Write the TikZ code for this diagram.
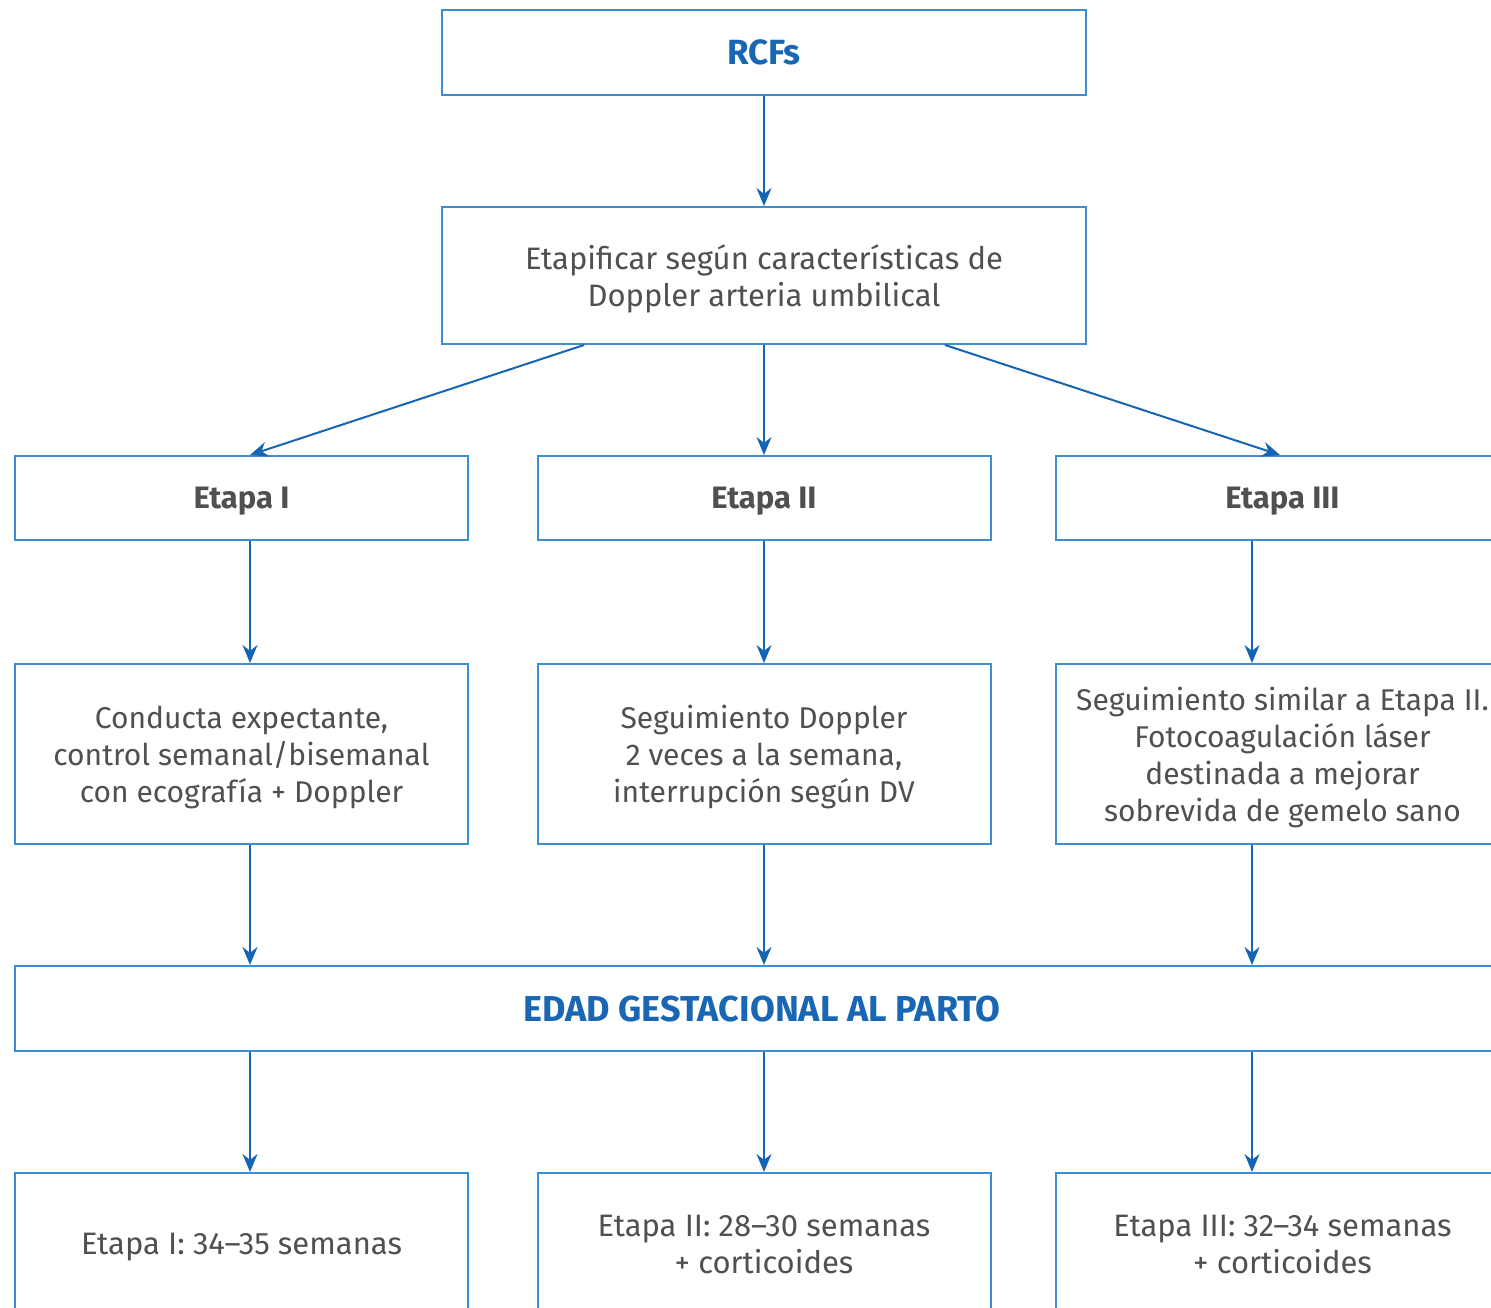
\documentclass[tikz,border=0pt]{standalone}
\usepackage{fontspec}
\setmainfont{Fira Sans}
\usetikzlibrary{arrows.meta,calc}
\definecolor{boxblue}{HTML}{3C8DD2}
\definecolor{arrblue}{HTML}{1565B4}
\definecolor{txtgray}{HTML}{505050}
\definecolor{ttlblue}{HTML}{1866B4}
\begin{document}
\begin{tikzpicture}[x=1pt,y=-1pt,
  box/.style={draw=boxblue,line width=2pt,fill=white,inner sep=0pt,align=center,
    text=txtgray,text depth=0pt,font=\fontsize{31}{37}\selectfont},
  sbox/.style={box,minimum width=453pt,minimum height=84pt},
  mbox/.style={box,minimum width=453pt,minimum height=180pt,font=\fontsize{30}{37}\selectfont},
  bbox/.style={box,minimum width=453pt,minimum height=142pt},
  ttl/.style={text=ttlblue,font=\fontsize{35}{37}\selectfont\bfseries},
  hd/.style={font=\fontsize{31}{37}\selectfont\bfseries},
  arr/.style={draw=arrblue,line width=2pt,-{Stealth[length=18pt,width=15pt]}}]
\useasboundingbox (0,0) rectangle (1491,1307);
\clip (0,0) rectangle (1491,1307);
\fill[white] (0,0) rectangle (1491,1307);
\coordinate (colI) at (250,0);
\coordinate (colII) at (764,0);
\coordinate (colIII) at (1252,0);
\node[box,ttl,minimum width=644pt,minimum height=85pt] (rcf) at (764,52.5) {RCFs};
\node[box,minimum width=644pt,minimum height=137pt] (etap) at (764,275.5) {Etapificar según características de\\Doppler arteria umbilical};
\node[sbox,hd] (e1) at (241.5,498) {Etapa I};
\node[sbox,hd] (e2) at (764,498) {Etapa II};
\node[sbox,hd] (e3) at (1282.5,498) {Etapa III};
\node[mbox] (c1) at (241.5,754) {Conducta expectante,\\control semanal/bisemanal\\con ecografía + Doppler};
\node[mbox] (c2) at (764,754) {Seguimiento Doppler\\2 veces a la semana,\\interrupción según DV};
\node[mbox] (c3) at (1282.5,754) {Seguimiento similar a Etapa II.\\Fotocoagulación láser\\destinada a mejorar\\sobrevida de gemelo sano};
\node[box,ttl,font=\fontsize{36}{37}\selectfont\bfseries,minimum width=1494pt,minimum height=85pt] (edad) at (762,1008.5) {EDAD GESTACIONAL AL PARTO};
\node[bbox] (b1) at (241.5,1244) {Etapa I: 34--35 semanas};
\node[bbox] (b2) at (764,1244) {Etapa II: 28--30 semanas\\+ corticoides};
\node[bbox] (b3) at (1282.5,1244) {Etapa III: 32--34 semanas\\+ corticoides};
\draw[arr] (rcf.south) -- (etap.north);
\draw[arr] ($(etap.south west)+(143,0)$) -- (e1.north -| colI);
\draw[arr] (etap.south) -- (e2.north);
\draw[arr] ($(etap.south west)+(504,0)$) -- ($(e3.north west)+(225,0)$);
\draw[arr] (e1.south -| colI) -- (c1.north -| colI);
\draw[arr] (e2.south -| colII) -- (c2.north -| colII);
\draw[arr] (e3.south -| colIII) -- (c3.north -| colIII);
\draw[arr] (c1.south -| colI) -- (edad.north -| colI);
\draw[arr] (c2.south -| colII) -- (edad.north -| colII);
\draw[arr] (c3.south -| colIII) -- (edad.north -| colIII);
\draw[arr] (edad.south -| colI) -- (b1.north -| colI);
\draw[arr] (edad.south -| colII) -- (b2.north -| colII);
\draw[arr] (edad.south -| colIII) -- (b3.north -| colIII);
\end{tikzpicture}
\end{document}
